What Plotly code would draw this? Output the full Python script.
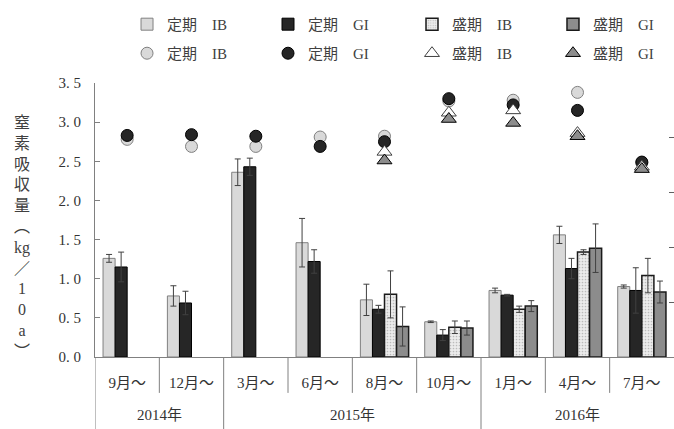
import plotly.graph_objects as go

# Sampling periods (month the period starts) and the year each belongs to
months = ["9月～", "12月～", "3月～", "6月～", "8月～", "10月～", "1月～", "4月～", "7月～"]
year_labels = ["2014年", "2015年", "2016年"]
year_spans = [2, 4, 3]  # number of periods in each year

# Nitrogen uptake (kg/10a), bars = mean, err = standard error
teiki_ib = [1.26, 0.78, 2.36, 1.46, 0.73, 0.45, 0.85, 1.56, 0.90]
teiki_ib_err = [0.05, 0.13, 0.17, 0.31, 0.20, 0.01, 0.03, 0.11, 0.02]
teiki_gi = [1.15, 0.69, 2.43, 1.22, 0.61, 0.28, 0.79, 1.13, 0.85]
teiki_gi_err = [0.19, 0.15, 0.11, 0.15, 0.05, 0.07, 0.01, 0.13, 0.29]
seiki_ib = [None, None, None, None, 0.80, 0.38, 0.61, 1.34, 1.04]
seiki_ib_err = [None, None, None, None, 0.30, 0.08, 0.04, 0.03, 0.22]
seiki_gi = [None, None, None, None, 0.39, 0.37, 0.65, 1.39, 0.83]
seiki_gi_err = [None, None, None, None, 0.25, 0.09, 0.07, 0.31, 0.14]

# Point series
teiki_ib_pt = [2.78, 2.69, 2.69, 2.81, 2.82, 3.27, 3.28, 3.38, 2.48]
teiki_gi_pt = [2.83, 2.84, 2.82, 2.69, 2.75, 3.30, 3.22, 3.15, 2.49]
seiki_ib_pt = [None, None, None, None, 2.62, 3.12, 3.15, 2.86, 2.43]
seiki_gi_pt = [None, None, None, None, 2.51, 3.04, 2.99, 2.82, 2.40]

y_ticks = [0.0, 0.5, 1.0, 1.5, 2.0, 2.5, 3.0, 3.5]
y_ticktext = ["0. 0", "0. 5", "1. 0", "1. 5", "2. 0", "2. 5", "3. 0", "3. 5"]

FONT = "Liberation Serif, Noto Sans CJK JP, serif"
ERR = dict(type="data", thickness=1, width=3, color="#404040")

# Legend grid: one single-entry legend per cell (4 columns x 2 rows)
LEG_COLS = [0.0553, 0.2988, 0.5475, 0.791]
LEG_ROWS = [1.274, 1.168]

fig = go.Figure()
legend_layouts = {}

def legend_for(idx):
    key = "legend" if idx == 0 else f"legend{idx + 1}"
    legend_layouts[key] = dict(
        orientation="h", xanchor="left", yanchor="top",
        x=LEG_COLS[idx % 4], y=LEG_ROWS[idx // 4], itemwidth=30,
        font=dict(family=FONT, size=15, color="#404040"),
        bgcolor="rgba(0,0,0,0)")
    return key

def add_bar(idx, name, vals, errs, fill, line_color, line_w, pattern=None):
    fig.add_trace(go.Bar(
        x=months, y=vals, name=name, legend=legend_for(idx),
        error_y=dict(array=errs, **ERR),
        marker=dict(color=fill, line=dict(color=line_color, width=line_w),
                    pattern=pattern or {}),
    ))

add_bar(0, "定期　IB", teiki_ib, teiki_ib_err, "#d9d9d9", "#808080", 1)
add_bar(1, "定期　GI", teiki_gi, teiki_gi_err, "#262626", "#000000", 1)
add_bar(2, "盛期　IB", seiki_ib, seiki_ib_err, "#ececec", "#1a1a1a", 1.5,
        dict(shape=".", fgcolor="#8a8a8a", bgcolor="#ececec", size=3, solidity=0.25))
add_bar(3, "盛期　GI", seiki_gi, seiki_gi_err, "#8c8c8c", "#1a1a1a", 1.5)

def add_pts(idx, name, vals, symbol, fill, line_color, size):
    fig.add_trace(go.Scatter(
        x=months, y=vals, name=name, mode="markers", legend=legend_for(idx),
        marker=dict(symbol=symbol, size=size, color=fill,
                    line=dict(color=line_color, width=1)),
    ))

add_pts(4, "定期　IB", teiki_ib_pt, "circle", "#d9d9d9", "#808080", 12)
add_pts(5, "定期　GI", teiki_gi_pt, "circle", "#262626", "#000000", 12)
add_pts(6, "盛期　IB", seiki_ib_pt, "triangle-up", "#ffffff", "#404040", 13)
add_pts(7, "盛期　GI", seiki_gi_pt, "triangle-up", "#8c8c8c", "#000000", 13)

# Empty trace so the right-hand (unlabelled) axis gets drawn
fig.add_trace(go.Scatter(x=[], y=[], yaxis="y2", showlegend=False, hoverinfo="skip"))

# Separators under the category axis: short between periods, long between years
shapes = []
year_bounds = [-0.5]
for span in year_spans:
    year_bounds.append(year_bounds[-1] + span)
for i in range(len(months)):
    b = i - 0.5
    long_line = b in year_bounds
    shapes.append(dict(type="line", xref="x", yref="paper", x0=b, x1=b,
                       y0=0, y1=-0.27 if long_line else -0.131,
                       line=dict(color="#808080", width=1)))

annotations = []
for k, lab in enumerate(year_labels):
    center = year_bounds[k] + year_spans[k] / 2
    annotations.append(dict(text=lab, xref="x", yref="paper", x=center, y=-0.212,
                            xanchor="center", yanchor="middle", showarrow=False,
                            font=dict(family=FONT, size=15, color="#333333")))

ytitle = ["窒", "素", "吸", "収", "量", "︵", "kg", "／", "1", "0", "a", "︶"]
annotations.append(dict(text="<br>".join(ytitle), xref="paper", yref="paper",
                        x=-0.126, y=0.437, xanchor="center", yanchor="middle",
                        showarrow=False, align="center",
                        font=dict(family=FONT, size=16, color="#404040")))

fig.update_layout(
    width=674, height=429,
    margin=dict(l=95, r=0, t=83, b=72),
    showlegend=True,
    plot_bgcolor="white", paper_bgcolor="white",
    barmode="group", bargap=0.25, bargroupgap=0,
    font=dict(family=FONT, size=15, color="#333333"),
    xaxis=dict(type="category", range=[-0.5, 8.5], showgrid=False,
               showline=True, linecolor="#808080", linewidth=1,
               ticks="", ticklabelstandoff=12,
               tickfont=dict(family=FONT, size=15, color="#333333")),
    yaxis=dict(range=[0, 3.5], tickvals=y_ticks, ticktext=y_ticktext,
               showgrid=False, zeroline=False, showline=True,
               linecolor="#808080", linewidth=1, ticks="inside", ticklen=5,
               tickcolor="#808080", ticklabelstandoff=10,
               tickfont=dict(family=FONT, size=15, color="#333333")),
    yaxis2=dict(overlaying="y", side="right", anchor="x", range=[0, 5], dtick=1,
                showgrid=False, zeroline=False, showline=False,
                ticks="inside", ticklen=5, tickcolor="#606060",
                showticklabels=False),
    shapes=shapes, annotations=annotations,
    **legend_layouts,
)

fig.write_html("out.html")
